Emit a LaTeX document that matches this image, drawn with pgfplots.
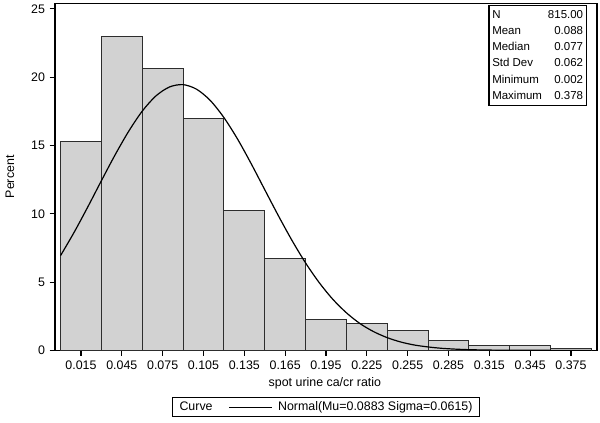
\documentclass[border=0pt]{standalone}
\usepackage{fontspec}
\setmainfont{Liberation Sans}
\usepackage{pgfplots}
\pgfplotsset{compat=1.18}

% percent of 815 observations per bin (bin width 0.03)
\pgfplotstableread{
mid   pct
0.015 15.28
0.045 23.00
0.075 20.66
0.105 16.94
0.135 10.22
0.165 6.70
0.195 2.29
0.225 1.95
0.255 1.46
0.285 0.71
0.315 0.37
0.345 0.37
0.375 0.12
}\histdata

% fitted normal curve
\pgfplotstableread{
x    y
0.00 6.94
0.01 8.65
0.02 10.50
0.03 12.42
0.04 14.30
0.05 16.03
0.06 17.51
0.07 18.62
0.08 19.28
0.09 19.45
0.10 19.11
0.11 18.29
0.12 17.04
0.13 15.47
0.14 13.67
0.15 11.76
0.16 9.86
0.17 8.05
0.18 6.40
0.19 4.96
0.20 3.74
0.21 2.75
0.22 1.96
0.23 1.37
0.24 0.93
0.25 0.61
0.26 0.39
0.27 0.25
0.28 0.15
0.29 0.09
0.30 0.05
0.31 0.03
0.32 0.015
0.33 0.008
0.34 0.004
0.35 0.002
0.36 0.001
0.37 0.0005
0.38 0.0002
0.39 0.0001
}\curvedata

\definecolor{barfill}{RGB}{210,210,210}
\definecolor{baredge}{RGB}{45,45,45}

\begin{document}
\begin{tikzpicture}
\begin{axis}[
  name=main,
  scale only axis,
  width=406.5pt, height=260.25pt,
  xmin=-0.0041, xmax=0.3941,
  ymin=0, ymax=25.4,
  axis line style={line width=0.9pt},
  xtick={0.015,0.045,...,0.376},
  ytick={0,5,10,15,20,25},
  xtick pos=bottom, ytick pos=left,
  tick align=outside,
  major tick length=4pt,
  tick style={line width=0.8pt, black},
  /pgf/number format/assume math mode=true,
  xticklabel style={/pgf/number format/.cd, fixed, fixed zerofill, precision=3},
  ticklabel style={font=\fontsize{9.3}{11}\selectfont},
  xlabel={spot urine ca/cr ratio},
  ylabel={Percent},
  label style={font=\fontsize{9.3}{11}\selectfont},
  xlabel style={at={(axis description cs:0.498,-0.095)}, anchor=center},
  ylabel style={at={(axis description cs:-0.083,0.5)}, anchor=center},
  legend columns=2,
  legend style={at={(axis description cs:0.5,-0.164)}, anchor=center,
    font=\fontsize{9.3}{11}\selectfont, draw=black, line width=0.9pt,
    inner xsep=3pt, inner ysep=1pt, /tikz/every even column/.append style={column sep=10pt}},
  legend cell align=left,
]
\addlegendimage{empty legend}
\addlegendentry{Curve}
\addplot[ybar, bar width=0.03, bar shift=0pt, fill=barfill, draw=baredge, line width=0.8pt, forget plot]
  table[x=mid, y=pct] {\histdata};
\addplot[smooth, black, line width=0.9pt, no marks,
  legend image code/.code={\draw[black, line width=0.6pt] (0pt,0pt) -- (32pt,0pt);}]
  table[x=x, y=y] {\curvedata};
\addlegendentry{\hspace{2.5pt}Normal(Mu=0.0883 Sigma=0.0615)}
\end{axis}
\node[draw=black, line width=0.9pt, anchor=north east, inner xsep=2.5pt, inner ysep=1pt,
  font=\fontsize{8.6}{12.2}\selectfont]
  at ([xshift=-7.5pt, yshift=-1pt]main.north east) {%
  \begin{tabular}{@{}l@{\hspace{4.5pt}}r@{}}
  N & 815.00\\
  Mean & 0.088\\
  Median & 0.077\\
  Std Dev & 0.062\\
  Minimum & 0.002\\
  Maximum & 0.378
  \end{tabular}};
\path ([xshift=-41.25pt, yshift=-54pt]main.south west) rectangle ([xshift=2.25pt, yshift=2.25pt]main.north east);
\end{tikzpicture}
\end{document}
